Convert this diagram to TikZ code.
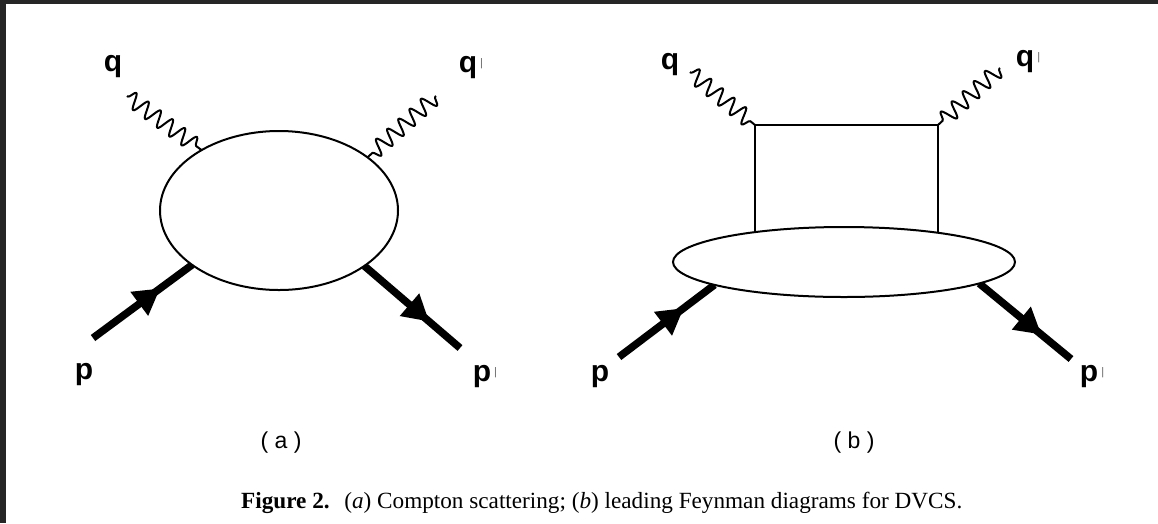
\documentclass[tikz,border=0pt]{standalone}
\usepackage{fontspec}
\setmainfont{Liberation Serif}
\newfontfamily\lblfont{Liberation Sans}
\usetikzlibrary{decorations.pathmorphing,decorations.markings,arrows.meta,shapes.geometric}
\pgfdeclarelayer{back}
\pgfdeclarelayer{lines}
\pgfsetlayers{back,lines,main}
\newcommand\primebar{\hspace{3pt}{\mdseries\color{black!60}\fontsize{11}{11}\selectfont\raisebox{6pt}{|}}}
\begin{document}
\begin{tikzpicture}[x=1pt,y=-1pt,
  blob/.style={draw, line width=2pt, ellipse, inner sep=0pt, outer sep=0pt, fill=white},
  photon/.style={line width=2pt, line join=round, decorate, decoration={snake, segment length=15pt, amplitude=8pt, pre length=1pt, post length=5pt}},
  hadron/.style={line width=7.5pt, postaction={decorate}, decoration={markings, mark=at position 0.68 with {\arrow{Triangle[length=26pt,width=28pt]}}}},
  propline/.style={line width=2pt},
  lbl/.style={font=\lblfont\bfseries\fontsize{30}{30}\selectfont, anchor=base, inner sep=0pt},
  sub/.style={font=\lblfont\fontsize{23}{23}\selectfont, anchor=base, inner sep=0pt},
  captext/.style={font=\fontsize{23.2}{23.2}\selectfont, anchor=base west, inner sep=0pt}
]
\begin{pgfonlayer}{back}
  \fill[white] (0,0) rectangle (1158,523);
  \fill[black!85] (0,0) rectangle (1158,4);
  \fill[black!85] (0,0) rectangle (6,523);
\end{pgfonlayer}
\path[use as bounding box] (0,0) rectangle (1158,523);

% ---------- (a) ----------
\node[blob, minimum width=238pt, minimum height=159pt] (ea) at (279,210.5) {};
\coordinate (qa) at (127,96);
\coordinate (qpa) at (436,96);
\coordinate (pa) at (93,338);
\coordinate (ppa) at (460,348);
\begin{pgfonlayer}{lines}
  \draw[photon] (qa) -- (ea.142);
  \draw[photon] (qpa) -- (ea.31);
  \draw[hadron] (pa) -- (ea.212);
  \draw[hadron] (ea.327) -- (ppa);
\end{pgfonlayer}
\node[lbl] (lqa) at (113,71) {q};
\node[lbl] (lqpa) at (471,72) {q\primebar};
\node[lbl] (lpa) at (84,379) {p};
\node[lbl] (lppa) at (485,381) {p\primebar};
\node[sub] (la) at (281,448) {( a )};

% ---------- (b) ----------
\node[blob, minimum width=342pt, minimum height=70pt] (eb) at (844,262) {};
\coordinate (tl) at (755,125);
\coordinate (tr) at (938,125);
\coordinate (qb) at (690,72);
\coordinate (qpb) at (1000,68);
\coordinate (pb) at (619,357);
\coordinate (ppb) at (1071,359);
\begin{pgfonlayer}{lines}
  \draw[propline] (tl |- eb.center) -- (tl) -- (tr) -- (tr |- eb.center);
  \draw[photon] (qb) -- (tl);
  \draw[photon] (qpb) -- (tr);
  \draw[hadron] (pb) -- (eb.190);
  \draw[hadron] (eb.351) -- (ppb);
\end{pgfonlayer}
\node[lbl] (lqb) at (670,69) {q};
\node[lbl] (lqpb) at (1028,66) {q\primebar};
\node[lbl] (lpb) at (600,381) {p};
\node[lbl] (lppb) at (1092,381) {p\primebar};
\node[sub] (lb) at (854,448) {( b )};

% ---------- caption ----------
\node[captext] (cap) at (241,508) {\textbf{Figure 2.}\hspace{0.3em} (\textit{a}) Compton scattering; (\textit{b}) leading Feynman diagrams for DVCS.};
\end{tikzpicture}
\end{document}
